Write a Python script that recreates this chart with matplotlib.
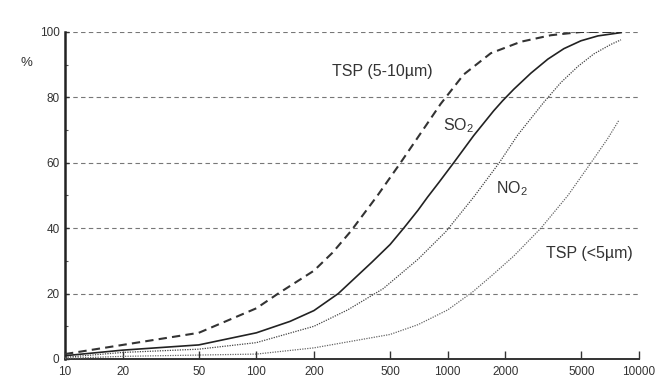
import matplotlib
matplotlib.use('Agg')
import matplotlib.pyplot as plt
from matplotlib.ticker import FixedLocator, NullFormatter

plt.rcParams['font.family'] = ['Liberation Sans', 'DejaVu Sans']
plt.rcParams['mathtext.fontset'] = 'custom'
plt.rcParams['mathtext.rm'] = 'Liberation Sans'
plt.rcParams['mathtext.default'] = 'rm'

# TSP (5-10um), dashed
tsp_big_x = [10, 20, 50, 100, 130, 200, 250, 311, 430, 567, 722, 919, 1213, 1680, 2410, 3460, 4970, 8000]
tsp_big_y = [1.5, 4.3, 8, 15.5, 20, 27, 32.5, 39, 50, 60, 69, 78, 87, 93.5, 97, 99, 100, 100]

# SO2, solid
so2_x = [10, 20, 50, 100, 150, 200, 268, 400, 500, 589, 700, 785, 900, 1075, 1367, 1740, 1940, 2217,
         2722, 3340, 4050, 4970, 6100, 8050]
so2_y = [1, 2.7, 4.3, 8, 11.5, 14.8, 20, 29.5, 35, 40, 45.5, 49.5, 54, 60, 68.3, 75.9, 79, 82.5,
         87.4, 91.7, 94.9, 97.3, 98.8, 99.8]

# NO2, dotted
no2_x = [10, 20, 50, 100, 200, 300, 460, 700, 980, 1367, 1860, 2324, 3180, 3900, 4800, 5810, 7130, 8050]
no2_y = [0.5, 2, 3, 5, 10, 15, 21.5, 30.5, 39, 49.5, 60, 68.5, 78.5, 84.5, 89.5, 93.3, 96.2, 97.6]

# TSP (<5um), dotted
tsp_small_x = [10, 20, 50, 100, 200, 500, 700, 1000, 1350, 1700, 2217, 3070, 4250, 5610, 6880, 7850]
tsp_small_y = [0.2, 0.8, 1.2, 1.5, 3.4, 7.5, 10.5, 15, 20.5, 25.5, 31.5, 40, 50, 60, 67.5, 73]

xticks = [10, 20, 50, 100, 200, 500, 1000, 2000, 5000, 10000]
yticks = [0, 20, 40, 60, 80, 100]

fig = plt.figure(figsize=(6.6, 3.87), dpi=100)
ax = fig.add_axes([0.0985, 0.0724, 0.8697, 0.845])

for y in yticks[1:]:
    ax.axhline(y, color='#777777', lw=0.8, dashes=(4, 3), zorder=1)

ax.plot(tsp_big_x, tsp_big_y, color='#333333', lw=1.5, dashes=(4, 2.5), zorder=3)
ax.plot(so2_x, so2_y, color='#222222', lw=1.2, zorder=3)
ax.plot(no2_x, no2_y, color='#444444', lw=0.9, linestyle=(0, (1, 1)), zorder=3)
ax.plot(tsp_small_x, tsp_small_y, color='#666666', lw=0.9, linestyle=(0, (1, 1)), zorder=3)

ax.set_xscale('log')
ax.set_xlim(10, 10000)
ax.set_ylim(0, 100)
ax.xaxis.set_major_locator(FixedLocator(xticks))
ax.xaxis.set_minor_locator(FixedLocator([]))
ax.xaxis.set_minor_formatter(NullFormatter())
ax.set_xticklabels([str(v) for v in xticks])
ax.yaxis.set_major_locator(FixedLocator(yticks))
ax.yaxis.set_minor_locator(FixedLocator([10, 30, 50, 70, 90]))

ax.tick_params(axis='x', which='major', direction='in', length=6, width=1,
               pad=5, labelsize=8.5, colors='#333333')
ax.tick_params(axis='y', which='major', direction='in', length=3, width=1,
               pad=4, labelsize=8.5, colors='#333333')
ax.tick_params(axis='y', which='minor', direction='in', length=2.5, width=0.8, colors='#555555')

for s in ['top', 'right']:
    ax.spines[s].set_visible(False)
ax.spines['left'].set_linewidth(1.8)
ax.spines['bottom'].set_linewidth(1.4)
ax.spines['left'].set_color('#222222')
ax.spines['bottom'].set_color('#333333')

txt = dict(fontsize=11.5, color='#333333', va='center', ha='left')
ax.text(250, 88, 'TSP (5-10µm)', **txt)
ax.text(950, 71.5, 'SO$_2$', **txt)
ax.text(1780, 52, 'NO$_2$', **txt)
ax.text(3250, 32.4, 'TSP (<5µm)', **txt)
fig.text(26 / 660, 1 - 63 / 387, '%', fontsize=9.5, color='#333333', ha='center', va='center')

fig.savefig('out.png', dpi=100)
